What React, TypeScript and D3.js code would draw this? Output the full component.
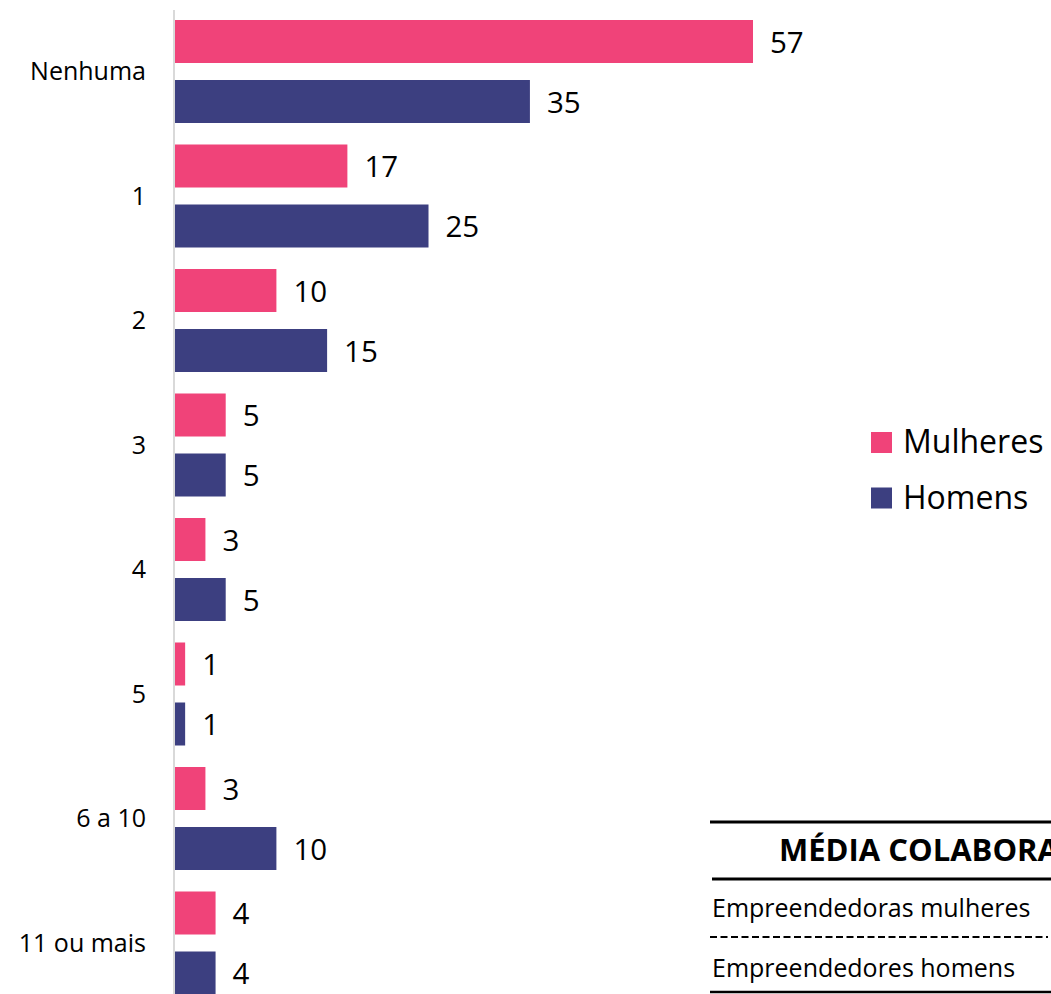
import React from "react";
import * as d3 from "d3";

const WIDTH = 1051;
const HEIGHT = 994;
const FONT = "'Open Sans', 'Noto Sans', sans-serif";

const categories = ["Nenhuma", "1", "2", "3", "4", "5", "6 a 10", "11 ou mais"];
const seriesNames = ["Mulheres", "Homens"];
const mulheres = [57, 17, 10, 5, 3, 1, 3, 4];
const homens = [35, 25, 15, 5, 5, 1, 10, 4];
const COLORS = ["#F04379", "#3C3F80"];

const tableTitle = "MÉDIA COLABORADORES";
const tableRows = ["Empreendedoras mulheres", "Empreendedores homens"];

const AXIS_X = 175;

const App = () => {
  const rows = categories.map((c, i) => ({ cat: c, values: [mulheres[i], homens[i]] }));

  const yScale = d3
    .scaleBand<string>()
    .domain(categories)
    .range([20, 994.5])
    .paddingInner(21.5 / 124.5)
    .paddingOuter(0);

  const ySub = d3
    .scaleBand<string>()
    .domain(seriesNames)
    .range([0, yScale.bandwidth()])
    .paddingInner(17 / 60)
    .paddingOuter(0);

  const maxVal = d3.max([...mulheres, ...homens]) as number;
  const xScale = d3.scaleLinear().domain([0, maxVal]).range([AXIS_X, 753]);

  const color = d3.scaleOrdinal<string>().domain(seriesNames).range(COLORS);

  return (
    <div style={{ position: "absolute", left: 0, top: 0 }}>
      <svg width={WIDTH} height={HEIGHT} style={{ display: "block" }} fontFamily={FONT}>
        <rect x={0} y={0} width={WIDTH} height={HEIGHT} fill="#FFFFFF" />
        {/* bars + value labels */}
        {rows.map((d) => (
          <g key={d.cat} transform={`translate(0,${yScale(d.cat)})`}>
            {d.values.map((v, j) => {
              const y = ySub(seriesNames[j]) as number;
              return (
                <g key={j}>
                  <rect
                    x={xScale(0)}
                    y={y}
                    width={xScale(v) - xScale(0)}
                    height={ySub.bandwidth()}
                    fill={color(seriesNames[j])}
                  />
                  <text
                    x={xScale(v) + 17}
                    y={y + ySub.bandwidth() / 2 + 11}
                    fontSize={29.5}
                    fill="#000"
                  >
                    {v}
                  </text>
                </g>
              );
            })}
            <text
              x={146}
              y={yScale.bandwidth() / 2 + 8.7}
              textAnchor="end"
              fontSize={25}
              fill="#000"
            >
              {d.cat}
            </text>
          </g>
        ))}
        {/* axis line */}
        <line x1={174} x2={174} y1={10} y2={HEIGHT} stroke="#D9D9D9" strokeWidth={2} />

        {/* legend */}
        {seriesNames.map((s, i) => (
          <g key={s} transform={`translate(871,${432 + i * 55.5})`}>
            <rect x={0} y={0} width={21} height={21} fill={color(s)} />
            <text x={32} y={21} fontSize={32} fill="#000">
              {s}
            </text>
          </g>
        ))}

        {/* table (cut off at the right edge, as in the source) */}
        <line x1={710} x2={WIDTH} y1={822} y2={822} stroke="#000" strokeWidth={3} />
        <text x={779} y={861} fontSize={31} fontWeight={700} fill="#000">
          {tableTitle}
        </text>
        <line x1={712} x2={WIDTH} y1={879} y2={879} stroke="#000" strokeWidth={3} />
        <text x={712} y={917} fontSize={25} fill="#000">
          {tableRows[0]}
        </text>
        <line
          x1={710}
          x2={1048}
          y1={937}
          y2={937}
          stroke="#000"
          strokeWidth={2}
          strokeDasharray="7,3.5"
        />
        <text x={712} y={977} fontSize={25} fill="#000">
          {tableRows[1]}
        </text>
        <line x1={710} x2={WIDTH} y1={992} y2={992} stroke="#000" strokeWidth={2.5} />
      </svg>
    </div>
  );
};

export default App;
